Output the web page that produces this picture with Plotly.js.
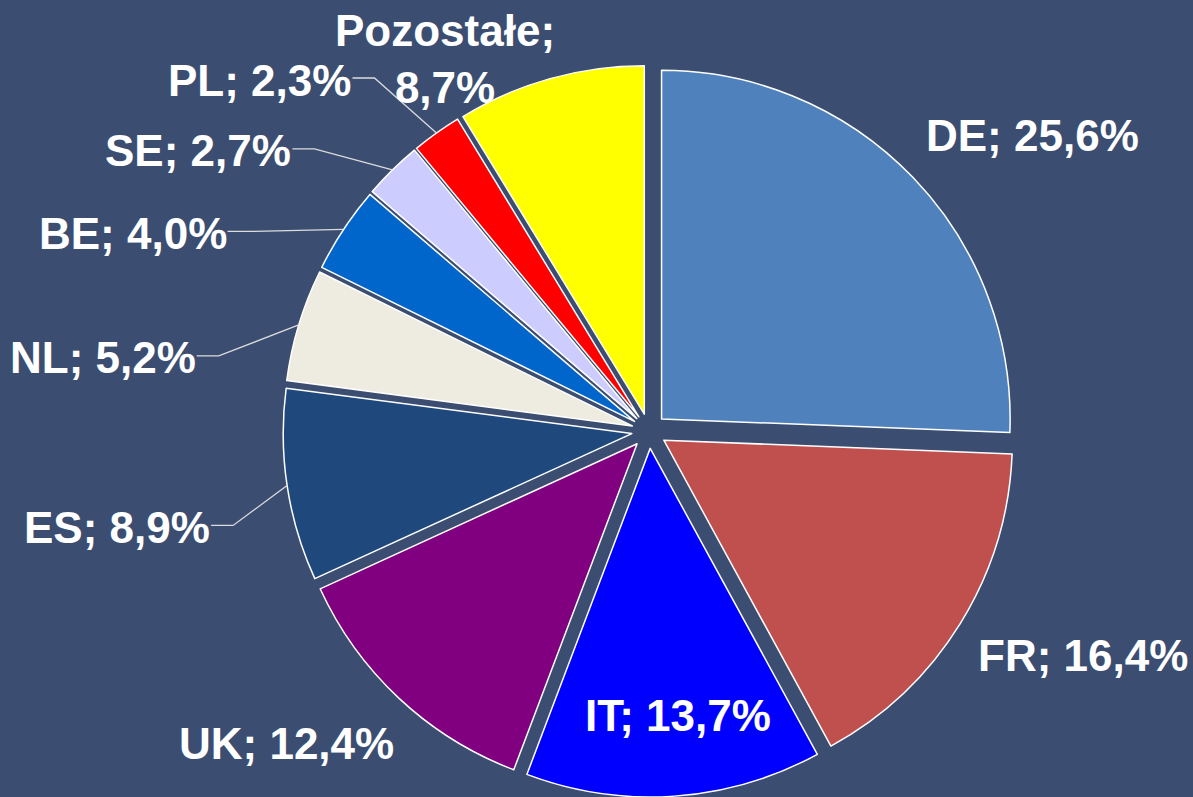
<!DOCTYPE html>
<html>
<head>
<meta charset="utf-8">
<script src="https://cdn.plot.ly/plotly-3.0.1.min.js"></script>
<style>
  html, body { margin: 0; padding: 0; background: #3b4e71; overflow: hidden; }
  #chart { width: 1193px; height: 797px; }
</style>
</head>
<body>
<div id="chart"></div>
<script>
// share of each country, %
const countries = ["DE", "FR", "IT", "UK", "ES", "NL", "BE", "SE", "PL", "Pozostałe"];
const shares = [25.6, 16.4, 13.7, 12.4, 8.9, 5.2, 4.0, 2.7, 2.3, 8.7];
const sliceColors = ["#4f81bd", "#c0504d", "#0000ff", "#800080", "#1f497d",
                     "#eeece1", "#0066cc", "#ccccff", "#ff0000", "#ffff00"];

// label placement relative to the slice's outer edge (px)
// "out": label centre offset, "line": leader kink offset, "in": label inside
const labelMode = ["out", "out", "in", "out", "line", "line", "line", "line", "line", "out"];
const labelOffset = [[120, -42], [123, 32], [4, -81], [-113, 45], [-54, 40],
                     [-80, 31], [-94, 2], [-78, -21], [-62, -55], [-105, -20]];

const W = 1193, H = 797;
const margin = { l: 283, r: 178, t: 65, b: 0, pad: 0 };
const pull = 0.05;

const plotW = W - margin.l - margin.r;
const plotH = H - margin.t - margin.b;
const cx = margin.l + plotW / 2;
const cy = margin.t + plotH / 2;
const R = Math.min(plotW, plotH) / 2 / (1 + pull);
const edgeR = R * (1 + pull);

const toX = px => (px - margin.l) / plotW;
const toY = py => 1 - (py - margin.t) / plotH;

const fmt = v => v.toFixed(1).replace(".", ",") + "%";

const total = shares.reduce((a, b) => a + b, 0);
const annotations = [];
const shapes = [];
const labelFont = { family: "Liberation Sans, Arial, sans-serif", size: 44, color: "#ffffff", weight: "bold" };

let cum = 0;
shares.forEach((v, i) => {
    const mid = (cum + v / 2) / total * 2 * Math.PI;
    cum += v;
    const ax = cx + edgeR * Math.sin(mid);
    const ay = cy - edgeR * Math.cos(mid);
    const [dx, dy] = labelOffset[i];
    const txt = countries[i] === "Pozostałe"
        ? countries[i] + ";<br>" + fmt(v)
        : countries[i] + "; " + fmt(v);

    if (labelMode[i] === "line") {
        const kx = ax + dx, ky = ay + dy;
        const lx = kx - 22;
        shapes.push({
            type: "path", xref: "paper", yref: "paper",
            path: `M ${toX(lx)},${toY(ky)} L ${toX(kx)},${toY(ky)} L ${toX(ax)},${toY(ay)}`,
            line: { color: "#dcdcdc", width: 1.3 },
        });
        annotations.push({
            xref: "paper", yref: "paper", x: toX(lx), y: toY(ky + 2),
            xanchor: "right", yanchor: "middle", text: txt, showarrow: false,
            font: labelFont, borderpad: 0,
        });
    } else {
        annotations.push({
            xref: "paper", yref: "paper", x: toX(ax + dx), y: toY(ay + dy),
            xanchor: "center", yanchor: "middle", text: txt, showarrow: false,
            font: labelFont, borderpad: 0,
        });
    }
});

const data = [{
    type: "pie",
    labels: countries,
    values: shares,
    sort: false,
    direction: "clockwise",
    rotation: 0,
    pull: pull,
    textinfo: "none",
    hoverinfo: "skip",
    marker: { colors: sliceColors, line: { color: "#ffffff", width: 1.5 } },
    showlegend: false,
}];

const layout = {
    width: W,
    height: H,
    margin: margin,
    paper_bgcolor: "#3b4e71",
    plot_bgcolor: "#3b4e71",
    annotations: annotations,
    shapes: shapes,
    showlegend: false,
};

Plotly.newPlot("chart", data, layout, { displayModeBar: false, staticPlot: true });
</script>
</body>
</html>
